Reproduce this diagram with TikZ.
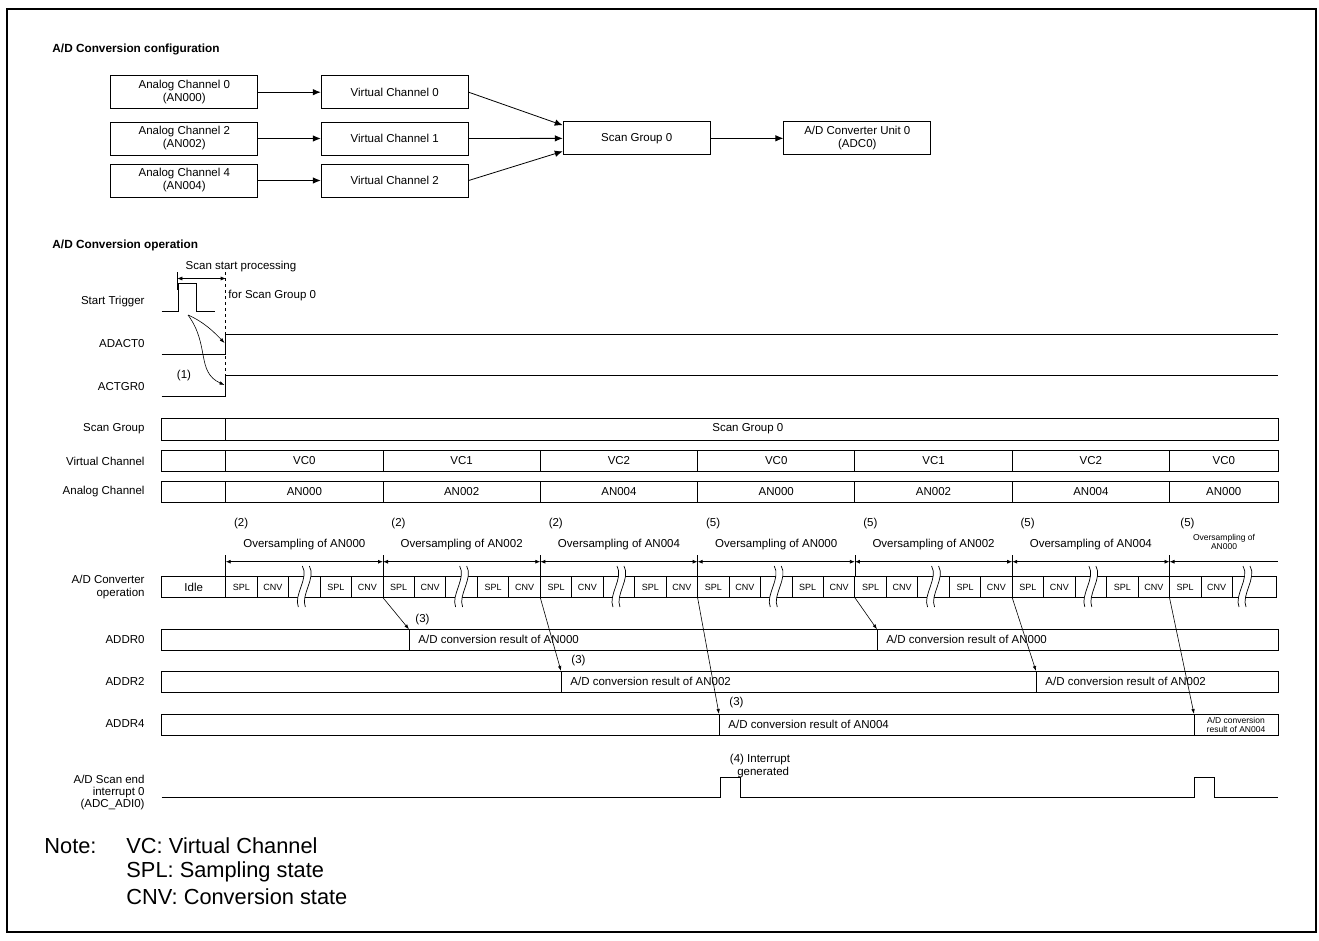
\documentclass[tikz,border=0pt]{standalone}
\usepackage{fontspec}
\setmainfont{Liberation Sans}
\usetikzlibrary{arrows.meta}

\tikzset{
  head/.style={font=\fontsize{11.8}{13}\selectfont\bfseries, inner sep=0pt, anchor=west},
  box/.style={draw, line width=0.9pt, minimum width=147pt, minimum height=33pt,
    align=center, inner sep=1pt, font=\fontsize{11.5}{13}\selectfont},
  lbl/.style={font=\fontsize{11.5}{13}\selectfont, inner sep=0pt},
  tag/.style={lbl, anchor=east, align=right},
  cell/.style={font=\fontsize{9}{10}\selectfont, inner sep=0pt},
  tiny/.style={font=\fontsize{8.5}{9}\selectfont, inner sep=0pt, align=center},
  note/.style={font=\fontsize{21.8}{24}\selectfont, inner sep=0pt, anchor=west},
  arr/.style={line width=0.8pt, -{Latex[length=8pt,width=6.5pt]}},
  sarr/.style={line width=0.6pt, -{Latex[length=5pt,width=3.5pt]}},
  dbl/.style={line width=0.8pt, {Latex[length=5pt,width=4pt]}-{Latex[length=5pt,width=4pt]}},
}

% break mark in the converter row
\newcommand{\sqbreak}[1]{%
  \fill[white] (#1-2,566) .. controls (#1+5,578) and (#1-11,595) .. (#1-6,607)
    -- (#1+1,607) .. controls (#1-4,595) and (#1+12,578) .. (#1+5,566) -- cycle;
  \draw[line width=0.7pt] (#1-2,566) .. controls (#1+5,578) and (#1-11,595) .. (#1-6,607);
  \draw[line width=0.7pt] (#1+5,566) .. controls (#1+12,578) and (#1-4,595) .. (#1+1,607);
}

\begin{document}
\begin{tikzpicture}[x=1pt, y=-1pt, line width=0.9pt]
  \useasboundingbox (0,0) rectangle (1319,940);

  % Frame
  \draw[line width=1.6pt] (7,9) rectangle (1316,932);

  % ---------- A/D Conversion configuration ----------
  \node[head] (cfg) at (52,49) {A/D Conversion configuration};

  \node[box] (ach0) at (184.3,92.2) {Analog Channel 0\\(AN000)};
  \node[box] (ach2) at (184.3,138.5) {Analog Channel 2\\(AN002)};
  \node[box] (ach4) at (184.3,180.5) {Analog Channel 4\\(AN004)};

  \node[box] (vch0) at (394.7,92.2) {Virtual Channel 0};
  \node[box] (vch1) at (394.7,138.5) {Virtual Channel 1};
  \node[box] (vch2) at (394.7,180.5) {Virtual Channel 2};

  \node[box] (grp0) at (636.7,138.3) {Scan Group 0};
  \node[box] (unit0) at (857.3,138.3) {A/D Converter Unit 0\\(ADC0)};

  \draw[arr] (ach0) -- (vch0);
  \draw[arr] (ach2) -- (vch1);
  \draw[arr] (ach4) -- (vch2);
  \draw[arr] (vch0.east) -- ([yshift=13pt]grp0.west);
  \draw[arr] (vch1) -- (grp0);
  \draw[arr] (vch2.east) -- ([yshift=-13pt]grp0.west);
  \draw[arr] (grp0) -- (unit0);

  % ---------- A/D Conversion operation ----------
  \node[head] (opr) at (52,245) {A/D Conversion operation};

  \def\xl{161.7}
  \def\xs{225.7}
  \def\xr{1278}
  \def\seg{157.3}
  \def\cw{31.46}

  % Start trigger
  \node[tag] (lstart) at (145,302) {Start Trigger};
  \draw (\xl,311.7) -- (178.3,311.7) -- (178.3,283.5) -- (196.7,283.5) -- (196.7,311.7) -- (215,311.7);
  \draw[line width=0.6pt] (177.3,272) -- (177.3,290);
  \draw[dashed, line width=0.6pt] (\xs,272) -- (\xs,376);
  \coordinate (ssa) at (177.3,278.5);
  \coordinate (ssb) at (\xs,278.5);
  \draw[dbl, line width=0.6pt] (ssa) -- (ssb);
  \node[lbl] (ssp) at (241,267) {Scan start processing};
  \node[lbl, anchor=west] (ssg) at (228,296) {for Scan Group 0};

  % ADACT0 / ACTGR0
  \node[tag] (ladact) at (145,344) {ADACT0};
  \draw (\xl,354.3) -- (\xs,354.3) -- (\xs,334.3) -- (\xr,334.3);
  \node[tag] (lactgr) at (145,387) {ACTGR0};
  \draw (\xl,396.7) -- (\xs,396.7) -- (\xs,375.7) -- (\xr,375.7);

  \coordinate (trg) at (188,315);
  \coordinate (adact) at (224.5,343);
  \coordinate (actgr) at (224.5,385);
  \draw[sarr] (trg) .. controls (204,322) and (214,332) .. (adact);
  \draw[sarr] (trg) .. controls (210,345) and (196,372) .. (actgr);
  \node[lbl] (one) at (184,376) {(1)};

  % Scan group / virtual channel / analog channel rows
  \node[tag] (lsg) at (145,429) {Scan Group};
  \node[tag] (lvc) at (145,461) {Virtual Channel};
  \node[tag] (lan) at (145,492) {Analog Channel};
  \draw (\xl,418.3) rectangle (\xr,440);
  \draw (\xs,418.3) -- (\xs,440);
  \node[lbl] (sgname) at ({(\xs+\xr)/2-4},429) {Scan Group 0};
  \draw (\xl,450.7) rectangle (\xr,471);
  \draw (\xl,481.7) rectangle (\xr,502.3);
  \foreach \k/\vc/\an in {0/VC0/AN000, 1/VC1/AN002, 2/VC2/AN004, 3/VC0/AN000,
                          4/VC1/AN002, 5/VC2/AN004, 6/VC0/AN000} {
    \pgfmathsetmacro\a{\xs+\k*\seg}
    \pgfmathsetmacro\b{min(\a+\seg,\xr)}
    \draw (\a,450.7) -- (\a,471);
    \draw (\a,481.7) -- (\a,502.3);
    \node[lbl] (vcc\k) at ({(\a+\b)/2},461) {\vc};
    \node[lbl] (anc\k) at ({(\a+\b)/2},492) {\an};
  }

  % A/D converter operation
  \node[tag] (lop) at (145,587) {A/D Converter\\operation};
  \draw (\xl,576) rectangle (1276,597.7);
  \draw (\xs,576) -- (\xs,597.7);
  \node[lbl] (idle) at (193.7,587) {Idle};
  \foreach \k in {0,...,5} {
    \pgfmathsetmacro\a{\xs+\k*\seg}
    \foreach \i in {1,...,5} \draw (\a+\i*\cw,576) -- (\a+\i*\cw,597.7);
    \node[cell] (spa\k) at (\a+0.5*\cw,587) {SPL};
    \node[cell] (cna\k) at (\a+1.5*\cw,587) {CNV};
    \node[cell] (spb\k) at (\a+3.5*\cw,587) {SPL};
    \node[cell] (cnb\k) at (\a+4.5*\cw,587) {CNV};
    \pgfmathsetmacro\m{\a+2.5*\cw}
    \sqbreak{\m}
  }
  \pgfmathsetmacro\a{\xs+6*\seg}
  \draw (\a+\cw,576) -- (\a+\cw,597.7);
  \draw (\a+2*\cw,576) -- (\a+2*\cw,597.7);
  \node[cell] (spa6) at (\a+0.5*\cw,587) {SPL};
  \node[cell] (cna6) at (\a+1.5*\cw,587) {CNV};
  \pgfmathsetmacro\m{\a+2.4*\cw}
  \sqbreak{\m}

  % Oversampling spans
  \foreach \k in {0,...,6} \draw[line width=0.7pt] (\xs+\k*\seg,555) -- (\xs+\k*\seg,576);
  \foreach \k/\n/\an in {0/2/AN000, 1/2/AN002, 2/2/AN004, 3/5/AN000, 4/5/AN002, 5/5/AN004} {
    \pgfmathsetmacro\a{\xs+\k*\seg}
    \coordinate (os\k) at (\a,561.7);
    \coordinate (oe\k) at (\a+\seg,561.7);
    \draw[dbl] (os\k) -- (oe\k);
    \node[lbl, anchor=west] (num\k) at (\a+8,524) {(\n)};
    \node[lbl] (ovs\k) at (\a+\seg/2,545) {Oversampling of \an};
  }
  \coordinate (os6) at (\xs+6*\seg,561.7);
  \coordinate (oe6) at (\xr,561.7);
  \draw[line width=0.8pt, {Latex[length=5pt,width=4pt]}-] (os6) -- (oe6);
  \node[lbl, anchor=west] (num6) at (1180,524) {(5)};
  \node[tiny] (ovs6) at (1224,542) {Oversampling of\\AN000};

  % Result registers
  \node[tag] (laddr0) at (145,640) {ADDR0};
  \node[tag] (laddr2) at (145,681) {ADDR2};
  \node[tag] (laddr4) at (145,724) {ADDR4};
  \foreach \r/\y/\da/\db/\an in {0/629.3/409/877/AN000, 2/671/561/1036/AN002} {
    \draw (\xl,\y) rectangle (\xr,\y+21.5);
    \draw (\da,\y) -- (\da,\y+21.5);
    \draw (\db,\y) -- (\db,\y+21.5);
    \coordinate (ra\r) at (\da,\y);
    \coordinate (rb\r) at (\db,\y);
    \node[lbl, anchor=west] (rta\r) at (\da+9,\y+10.5) {A/D conversion result of \an};
    \node[lbl, anchor=west] (rtb\r) at (\db+9,\y+10.5) {A/D conversion result of \an};
  }
  \draw (\xl,714) rectangle (\xr,735);
  \draw (719,714) -- (719,735);
  \draw (1194,714) -- (1194,735);
  \coordinate (ra4) at (719,714);
  \coordinate (rb4) at (1194,714);
  \node[lbl, anchor=west] (rta4) at (728,724.5) {A/D conversion result of AN004};
  \node[tiny] (rtb4) at (1236,724.5) {A/D conversion\\result of AN004};

  % Result transfer arrows
  \foreach \k in {1,...,6} \coordinate (ce\k) at (\xs+\k*\seg,597.7);
  \draw[sarr] (ce1) -- (ra0);
  \draw[sarr] (ce2) -- (ra2);
  \draw[sarr] (ce3) -- (ra4);
  \draw[sarr] (ce4) -- (rb0);
  \draw[sarr] (ce5) -- (rb2);
  \draw[sarr] (ce6) -- (rb4);
  \node[lbl, anchor=west] (thr0) at (415,620) {(3)};
  \node[lbl, anchor=west] (thr2) at (571,661) {(3)};
  \node[lbl, anchor=west] (thr4) at (729,703) {(3)};

  % Scan end interrupt
  \node[tag, font=\fontsize{11.5}{12}\selectfont] (lint) at (145,793) {A/D Scan end\\interrupt 0\\(ADC\_ADI0)};
  \draw (\xl,797) -- (720,797) -- (720,777) -- (740,777) -- (740,797)
    -- (1194,797) -- (1194,777) -- (1214,777) -- (1214,797) -- (\xr,797);
  \node[lbl, align=center] (irq) at (760,766) {(4) Interrupt\\\ \ generated};

  % Note
  \node[note] (nt) at (44,846) {Note:};
  \node[note] (nt1) at (126,846) {VC: Virtual Channel};
  \node[note] (nt2) at (126,872) {SPL: Sampling state};
  \node[note] (nt3) at (126,897) {CNV: Conversion state};
\end{tikzpicture}
\end{document}
